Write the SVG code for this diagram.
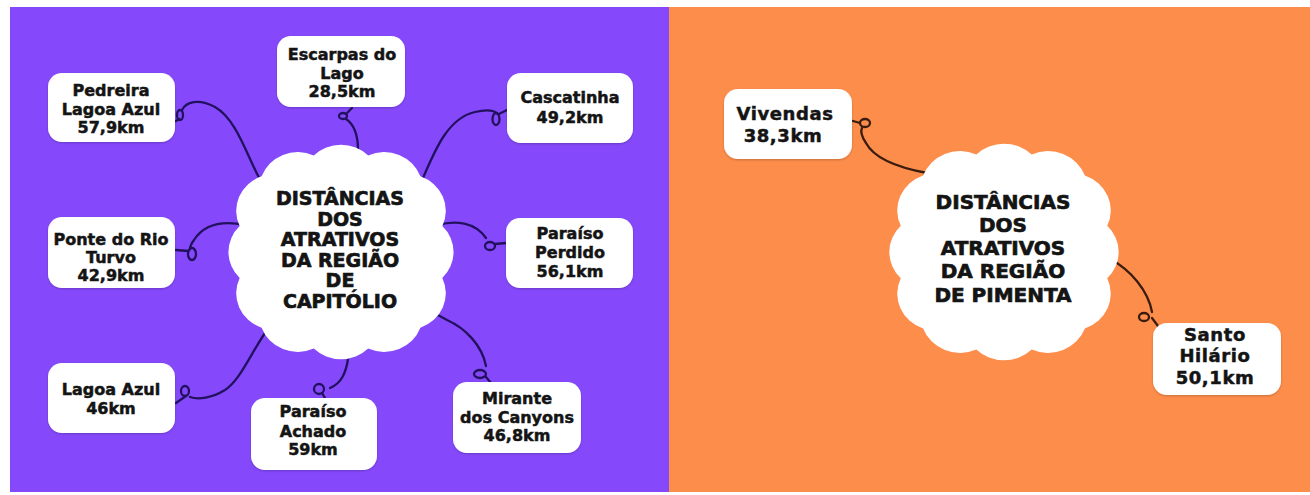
<svg xmlns="http://www.w3.org/2000/svg" xmlns:xlink="http://www.w3.org/1999/xlink" width="1310" height="495" viewBox="0 0 1310 495">
<defs>
<style>
.box{fill:#ffffff;}
.t{font-family:"DejaVu Sans",sans-serif;font-weight:bold;fill:#141414;stroke:#141414;stroke-width:0.5;text-anchor:middle;}
.ts{font-size:16px;}
.tr{font-size:18px;letter-spacing:0.6px;}
.tc{font-size:19px;stroke-width:0.7;}
.tcr{font-size:20px;stroke-width:0.7;}
.cl{fill:none;stroke:#22115e;stroke-width:2.3;stroke-linecap:round;}
.cr{fill:none;stroke:#3a1c10;stroke-width:2.3;stroke-linecap:round;}
.cloud{fill:#ffffff;}
</style>
<filter id="sh" x="-10%" y="-10%" width="120%" height="130%">
<feDropShadow dx="0" dy="1" stdDeviation="1.2" flood-color="#000" flood-opacity="0.22"/>
</filter>
<path id="cloudShape" d="M 94.7 25.4 A 36 36 0 0 1 74.2 74.2 A 36 36 0 0 1 25.4 94.7 A 36 36 0 0 1 -25.4 94.7 A 36 36 0 0 1 -74.2 74.2 A 36 36 0 0 1 -94.7 25.4 A 36 36 0 0 1 -94.7 -25.4 A 36 36 0 0 1 -74.2 -74.2 A 36 36 0 0 1 -25.4 -94.7 A 36 36 0 0 1 25.4 -94.7 A 36 36 0 0 1 74.2 -74.2 A 36 36 0 0 1 94.7 -25.4 A 36 36 0 0 1 94.7 25.4 Z"/>
</defs>
<rect x="0" y="0" width="1310" height="495" fill="#ffffff"/>
<rect id="panel-left" x="10" y="7" width="659" height="485" fill="#8549fb"/>
<rect id="panel-right" x="669" y="7" width="641" height="485" fill="#fd8d4b"/>

<g id="connectors">
<path class="cl" d="M 270 192 L 262 183 C 248 160, 238 120, 215 107 C 198 98, 186 102, 182 110"/>
<ellipse class="cl" cx="180" cy="115" rx="3" ry="5"/>
<path class="cl" d="M 179 119 L 176 121"/>

<path class="cl" d="M 358 162 L 358 150 C 358 135, 355 125, 346 119"/>
<ellipse class="cl" cx="343" cy="116" rx="4" ry="3"/>
<path class="cl" d="M 346 114 L 352 108"/>

<path class="cl" d="M 414 190 L 423 178 C 435 150, 448 118, 475 112 C 487 109, 494 110, 498 114"/>
<ellipse class="cl" cx="496" cy="119" rx="3.5" ry="6"/>
<path class="cl" d="M 499 114 L 507 110"/>

<path class="cl" d="M 428 226 L 438 225 C 455 220, 475 222, 486 238"/>
<ellipse class="cl" cx="490" cy="246" rx="5" ry="4"/>
<path class="cl" d="M 495 244 L 506 243"/>

<path class="cl" d="M 255 226 L 245 225 C 225 221, 205 223, 194 240 C 191 244, 190 247, 190 249"/>
<ellipse class="cl" cx="192" cy="254" rx="4" ry="6"/>
<path class="cl" d="M 188 251 L 176 250"/>

<path class="cl" d="M 273 322 L 265 333 C 250 355, 240 380, 225 390 C 212 398, 198 400, 190 397"/>
<ellipse class="cl" cx="185" cy="391" rx="4" ry="5"/>
<path class="cl" d="M 186 396 L 176 403"/>

<path class="cl" d="M 349 345 L 348 359 C 346 372, 342 383, 330 388"/>
<ellipse class="cl" cx="319" cy="389" rx="5" ry="5"/>
<path class="cl" d="M 322 393 L 325 398"/>

<path class="cl" d="M 425 308 L 447 320 C 465 328, 482 345, 486 366"/>
<ellipse class="cl" cx="480" cy="374" rx="6" ry="4"/>
<path class="cl" d="M 486 377 L 491 383"/>

<path class="cr" d="M 940 180 L 927 173 C 900 168, 875 160, 866 143 C 862 137, 860 132, 862 128"/>
<ellipse class="cr" cx="865" cy="123" rx="5" ry="4"/>
<path class="cr" d="M 860 123 L 853 121"/>

<path class="cr" d="M 1098 254 L 1112 260 C 1130 270, 1148 290, 1152 312"/>
<ellipse class="cr" cx="1144" cy="317" rx="5" ry="4"/>
<path class="cr" d="M 1152 318 L 1158 326"/>
</g>

<g id="center-capitolio">
<use xlink:href="#cloudShape" href="#cloudShape" class="cloud" transform="translate(341,252) scale(1.07,1.02)"/>
<text class="t tc" x="340" y="205">DISTÂNCIAS</text>
<text class="t tc" x="340" y="225.6">DOS</text>
<text class="t tc" x="340" y="246.2">ATRATIVOS</text>
<text class="t tc" x="340" y="266.8">DA REGIÃO</text>
<text class="t tc" x="340" y="287.4">DE</text>
<text class="t tc" x="340" y="308">CAPITÓLIO</text>
</g>

<g id="node-pedreira">
<rect class="box" filter="url(#sh)" x="48" y="73" width="127" height="69" rx="14"/>
<text class="t ts" x="111" y="96">Pedreira</text>
<text class="t ts" x="111" y="115">Lagoa Azul</text>
<text class="t ts" x="111" y="133">57,9km</text>
</g>
<g id="node-escarpas">
<rect class="box" filter="url(#sh)" x="277" y="36" width="128" height="71" rx="14"/>
<text class="t ts" x="342" y="60">Escarpas do</text>
<text class="t ts" x="342" y="79">Lago</text>
<text class="t ts" x="342" y="97">28,5km</text>
</g>
<g id="node-cascatinha">
<rect class="box" filter="url(#sh)" x="507" y="73" width="126" height="70" rx="14"/>
<text class="t ts" x="570" y="103">Cascatinha</text>
<text class="t ts" x="570" y="123">49,2km</text>
</g>
<g id="node-ponte">
<rect class="box" filter="url(#sh)" x="48" y="217" width="127" height="71" rx="14"/>
<text class="t ts" x="111" y="245">Ponte do Rio</text>
<text class="t ts" x="111" y="263">Turvo</text>
<text class="t ts" x="111" y="281">42,9km</text>
</g>
<g id="node-perdido">
<rect class="box" filter="url(#sh)" x="506" y="218" width="127" height="70" rx="14"/>
<text class="t ts" x="570" y="239">Paraíso</text>
<text class="t ts" x="570" y="258">Perdido</text>
<text class="t ts" x="570" y="277">56,1km</text>
</g>
<g id="node-lagoa-azul">
<rect class="box" filter="url(#sh)" x="48" y="363" width="127" height="70" rx="14"/>
<text class="t ts" x="111" y="395">Lagoa Azul</text>
<text class="t ts" x="111" y="414">46km</text>
</g>
<g id="node-achado">
<rect class="box" filter="url(#sh)" x="251" y="398" width="126" height="72" rx="14"/>
<text class="t ts" x="313" y="417">Paraíso</text>
<text class="t ts" x="313" y="437">Achado</text>
<text class="t ts" x="313" y="455">59km</text>
</g>
<g id="node-mirante">
<rect class="box" filter="url(#sh)" x="453" y="382" width="128" height="71" rx="14"/>
<text class="t ts" x="517" y="404">Mirante</text>
<text class="t ts" x="517" y="423">dos Canyons</text>
<text class="t ts" x="517" y="441">46,8km</text>
</g>

<g id="center-pimenta">
<use xlink:href="#cloudShape" href="#cloudShape" class="cloud" transform="translate(1004,252) scale(1.09,1.03)"/>
<text class="t tcr" x="1003" y="209">DISTÂNCIAS</text>
<text class="t tcr" x="1003" y="232">DOS</text>
<text class="t tcr" x="1003" y="255">ATRATIVOS</text>
<text class="t tcr" x="1003" y="278">DA REGIÃO</text>
<text class="t tcr" x="1003" y="302">DE PIMENTA</text>
</g>
<g id="node-vivendas">
<rect class="box" filter="url(#sh)" x="724" y="89" width="128" height="70" rx="14"/>
<text class="t tr" x="785" y="120">Vivendas</text>
<text class="t tr" x="783" y="142">38,3km</text>
</g>
<g id="node-santo-hilario">
<rect class="box" filter="url(#sh)" x="1153" y="323" width="128" height="72" rx="14"/>
<text class="t tr" x="1215" y="341">Santo</text>
<text class="t tr" x="1215" y="362">Hilário</text>
<text class="t tr" x="1215" y="384">50,1km</text>
</g>
</svg>
